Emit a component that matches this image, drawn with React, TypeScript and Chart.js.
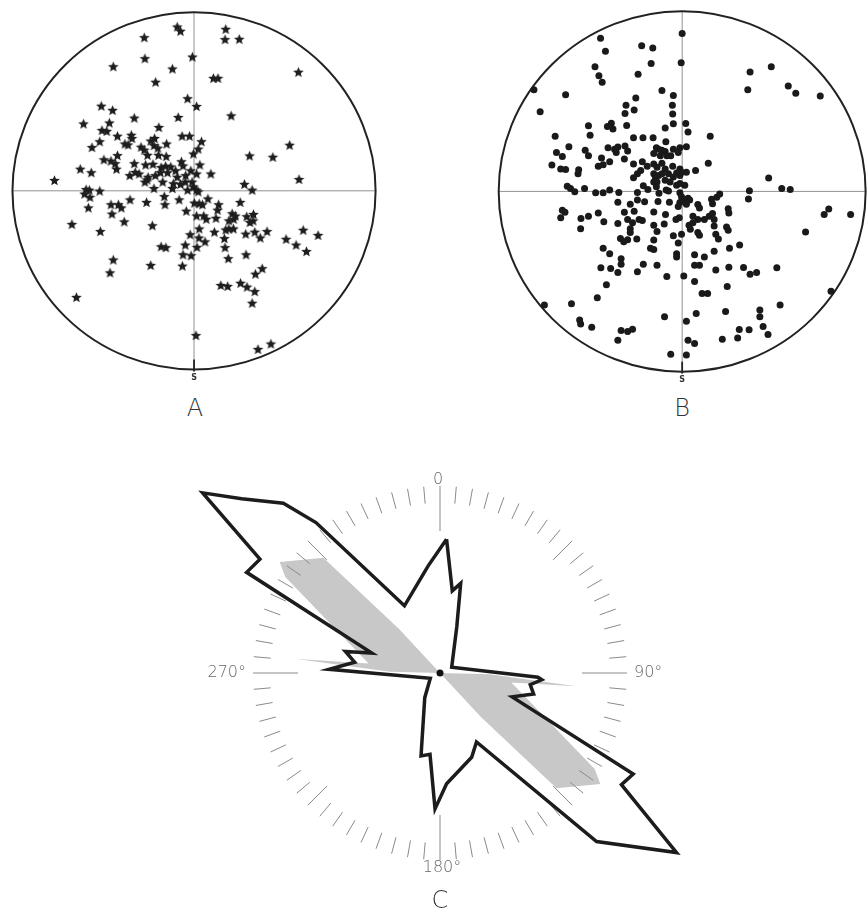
import React, { useEffect, useRef } from 'react';
import { Chart, registerables } from 'chart.js';
Chart.register(...registerables);

// ---------- Net A (stars): [east, north] in net units, origin at centre ----------
const NET_A_RADIUS_X = 562;
const NET_A_RADIUS_Y = 553;
const starPoles: [number, number][] = [
  [-52, 507], [-42, 494], [98, 500], [96, 468], [140, 469], [-154, 474], [-152, 409], [-5, 414],
  [-250, 384], [-67, 377], [323, 367], [-119, 336], [60, 348], [74, 348], [-20, 285], [8, 261],
  [-287, 262], [-252, 249], [-49, 227], [-185, 225], [115, 232], [-342, 207], [-262, 210], [-109, 196],
  [-285, 187], [-270, 184], [-237, 169], [-194, 172], [-192, 162], [-37, 169], [-14, 169], [-122, 162],
  [-292, 152], [-316, 134], [-214, 145], [-204, 142], [-134, 154], [-124, 140], [-85, 145], [23, 152],
  [-164, 135], [-154, 126], [-112, 132], [13, 129], [296, 141], [-144, 110], [-110, 110], [-86, 106],
  [-2, 114], [172, 108], [244, 104], [-237, 109], [-279, 96], [-257, 92], [-244, 84], [-240, 67],
  [-352, 67], [-318, 56], [-185, 84], [-150, 80], [-127, 82], [-102, 72], [-88, 76], [-72, 74],
  [-39, 90], [-34, 77], [18, 80], [-199, 47], [-182, 57], [-170, 52], [-152, 27], [-142, 42],
  [-120, 47], [-104, 56], [-82, 56], [-57, 62], [-52, 42], [-26, 47], [-10, 62], [8, 52],
  [52, 52], [-432, 32], [325, 35], [-145, 34], [-97, 27], [-64, 22], [-42, 20], [-27, 27],
  [-6, 27], [-2, 12], [8, 2], [156, 20], [180, 2], [-124, 7], [-67, 7], [-20, 2],
  [-334, 4], [-324, 2], [-339, -10], [-292, -1], [13, -3], [-322, -20], [-198, -28], [-147, -36],
  [-92, -18], [-90, -43], [-46, -28], [1, -38], [16, -40], [26, -43], [43, -25], [143, -36],
  [-257, -43], [-234, -43], [-225, -53], [-327, -53], [-254, -72], [-24, -63], [8, -78], [30, -78],
  [76, -43], [73, -60], [118, -71], [128, -78], [123, -88], [108, -93], [163, -80], [184, -73],
  [183, -93], [173, -98], [38, -88], [68, -85], [-378, -104], [-216, -96], [-129, -108], [-290, -126],
  [16, -118], [-12, -136], [15, -146], [63, -128], [98, -121], [108, -118], [122, -118], [160, -134],
  [188, -128], [205, -146], [226, -126], [285, -150], [338, -122], [384, -138], [316, -168], [348, -188],
  [94, -148], [34, -158], [-27, -168], [-102, -173], [-87, -176], [9, -175], [96, -176], [-34, -198],
  [-9, -201], [161, -198], [106, -210], [-250, -214], [-260, -254], [-134, -231], [-36, -233], [211, -241],
  [190, -258], [83, -293], [104, -296], [144, -286], [164, -298], [188, -312], [180, -348], [-364, -330],
  [6, -448], [198, -491], [238, -474],
];

// ---------- Net B (dots) ----------
const NET_B_RADIUS_X = 562;
const NET_B_RADIUS_Y = 552;
const dotPoles: [number, number][] = [
  [0, 484], [-250, 469], [-124, 446], [-90, 439], [-235, 429], [-95, 392], [-3, 394], [-267, 382],
  [-255, 354], [-245, 334], [-135, 359], [208, 366], [273, 382], [201, 311], [325, 323], [348, 301],
  [423, 292], [-454, 311], [-357, 296], [-62, 309], [-27, 294], [-435, 244], [-142, 286], [-30, 264],
  [-172, 264], [-147, 249], [-175, 239], [-29, 237], [-217, 209], [-229, 199], [-212, 191], [-287, 201],
  [-170, 202], [-52, 194], [-27, 207], [11, 208], [18, 182], [-282, 172], [-389, 169], [86, 169],
  [-149, 164], [-120, 164], [-89, 164], [-50, 152], [-347, 137], [-385, 119], [-367, 107], [-297, 126],
  [-287, 109], [-227, 134], [-207, 129], [-197, 136], [-175, 139], [-167, 124], [-202, 119], [-79, 134],
  [-72, 129], [-62, 126], [-52, 122], [-87, 116], [-67, 109], [-47, 109], [-27, 129], [-7, 134],
  [13, 137], [-35, 109], [-12, 119], [-247, 102], [-222, 91], [-177, 99], [-149, 84], [-122, 91],
  [-257, 77], [-242, 82], [-399, 81], [-372, 69], [-357, 67], [-317, 66], [-319, 54], [-87, 84],
  [-62, 86], [-107, 77], [-77, 74], [-52, 69], [-29, 77], [80, 86], [-7, 69], [-2, 59],
  [13, 59], [41, 64], [-137, 54], [-127, 64], [-87, 54], [-82, 44], [-72, 49], [-62, 54],
  [-42, 54], [-17, 56], [-149, 42], [-87, 29], [-77, 29], [-52, 34], [-37, 29], [-27, 44],
  [-7, 49], [-119, 17], [-79, 14], [-49, 4], [-17, 19], [-7, 24], [8, 19], [265, 41],
  [-352, 16], [-342, 9], [-329, -1], [-299, 9], [-265, -4], [-242, -4], [-222, 4], [-194, -3],
  [-137, -3], [-105, 6], [-71, -6], [-42, 1], [-7, -4], [-2, -16], [3, -26], [18, -21],
  [23, -26], [115, -8], [106, -18], [206, 2], [203, -23], [305, 9], [331, 6], [90, -24],
  [-197, -33], [-159, -39], [-137, -26], [-115, -32], [-74, -31], [-39, -33], [-7, -34], [13, -39],
  [-12, -46], [48, -40], [53, -51], [93, -38], [141, -53], [143, -66], [449, -54], [435, -71],
  [516, -71], [-367, -58], [-359, -64], [-372, -81], [-257, -66], [-177, -64], [-147, -61], [-87, -63],
  [-51, -71], [-9, -81], [33, -76], [48, -86], [68, -86], [83, -76], [93, -68], [98, -86],
  [-310, -83], [-287, -76], [-240, -93], [-167, -86], [-152, -96], [-132, -86], [-122, -89], [-87, -104],
  [-55, -100], [-19, -86], [21, -104], [33, -96], [98, -106], [136, -109], [141, -119], [-311, -114],
  [-197, -98], [-159, -114], [-77, -123], [25, -116], [48, -126], [53, -134], [378, -124], [-159, -126],
  [-27, -136], [-2, -131], [103, -131], [111, -146], [-189, -144], [-179, -154], [-167, -148], [-139, -146],
  [-12, -158], [-87, -149], [145, -174], [176, -164], [-242, -174], [-222, -191], [-97, -174], [-87, -178],
  [-17, -191], [-17, -201], [38, -194], [68, -201], [98, -183], [-187, -206], [-187, -223], [-249, -234],
  [-219, -236], [-197, -248], [-119, -223], [-77, -226], [-137, -246], [38, -226], [53, -226], [103, -241],
  [143, -232], [188, -233], [208, -254], [228, -248], [290, -234], [-232, -286], [-47, -261], [5, -259],
  [38, -276], [61, -313], [78, -313], [138, -291], [-260, -326], [-422, -348], [-339, -344], [300, -348],
  [456, -306], [-54, -384], [13, -398], [43, -374], [133, -368], [238, -363], [238, -384], [248, -414],
  [-314, -394], [-311, -406], [-277, -416], [-187, -426], [-167, -429], [-152, -422], [-197, -456], [175, -423],
  [205, -424], [263, -438], [18, -456], [38, -466], [123, -453], [170, -449], [-35, -499], [13, -501],
];

// ---------- Rose C: azimuth (deg, clockwise from 0) and length (ring = 187) ----------
const RING = 187;
const roseAzimuth = [2.8, 8.5, 13, 20, 64, 92.5, 93.8, 97.4, 102.7, 108.3, 117.6, 121.6, 127.2, 137.1, 152.1, 159.4,
  176.6, 182.1, 187, 192.9, 211.7, 241.8, 271.9, 277.2, 282.8, 286.3, 297.5, 302.3, 307.2, 311.3, 317.3, 320.5, 332.1, 353.8];
const roseLength = [134, 83, 92, 49, 13, 98, 102, 91, 96, 76, 218, 213, 297, 230, 78, 90,
  111, 136, 82, 85, 29, 11, 111, 86, 97, 71, 218, 213, 298, 264, 231, 195, 76, 108];
const coreAzimuth = [0, 91.5, 95.6, 97.5, 121.8, 124.7, 134.7, 137, 0, 271.5, 275.6, 277.5, 301.8, 304.7, 314.7, 317];
const coreLength = [0, 50, 137, 72, 182, 195, 164, 60, 0, 50, 144, 72, 182, 195, 164, 60];
const dialLabelAz = [0, 90, 180, 270];
const dialLabelText = ['0', '90°', '180°', '270°'];

const D2R = Math.PI / 180;
const toXY = (az: number[], len: number[]) => az.map((a, i) => ({ x: len[i] * Math.sin(a * D2R), y: len[i] * Math.cos(a * D2R) }));

function makeStar(): HTMLCanvasElement {
  const c = document.createElement('canvas');
  c.width = 13; c.height = 13;
  const g = c.getContext('2d')!;
  g.fillStyle = '#1e1e1e';
  g.beginPath();
  for (let i = 0; i < 10; i++) {
    const a = -Math.PI / 2 + (i * Math.PI) / 5;
    const rr = i % 2 === 0 ? 5.6 : 2.5;
    const px = 6.5 + rr * Math.cos(a), py = 6.8 + rr * Math.sin(a);
    if (i === 0) g.moveTo(px, py); else g.lineTo(px, py);
  }
  g.closePath();
  g.fill();
  return c;
}

function netPlugin(rx: number, ry: number) {
  return {
    id: 'net',
    beforeDatasetsDraw(chart: any) {
      const { ctx } = chart;
      const x = chart.scales.x, y = chart.scales.y;
      const cx = x.getPixelForValue(0), cy = y.getPixelForValue(0);
      const prx = x.getPixelForValue(rx) - cx, pry = cy - y.getPixelForValue(ry);
      ctx.save();
      ctx.strokeStyle = '#777';
      ctx.lineWidth = 0.8;
      ctx.beginPath();
      ctx.moveTo(cx - prx, cy); ctx.lineTo(cx + prx, cy);
      ctx.moveTo(cx, cy - pry); ctx.lineTo(cx, cy + pry);
      ctx.stroke();
      ctx.strokeStyle = '#222';
      ctx.lineWidth = 2;
      ctx.beginPath();
      ctx.ellipse(cx, cy, prx, pry, 0, 0, Math.PI * 2);
      ctx.stroke();
      ctx.lineWidth = 1.8;
      ctx.beginPath();
      ctx.moveTo(cx, cy + pry - 10); ctx.lineTo(cx, cy + pry + 2);
      ctx.stroke();
      ctx.fillStyle = '#333';
      ctx.font = 'bold 8px "DejaVu Sans"';
      ctx.textAlign = 'center';
      ctx.textBaseline = 'middle';
      ctx.fillText('S', cx, cy + pry + 8);
      ctx.restore();
    },
  };
}

const rosePlugin = {
  id: 'rose',
  beforeDatasetsDraw(chart: any) {
    const { ctx } = chart;
    const x = chart.scales.x, y = chart.scales.y;
    const P = (az: number, r: number) => [x.getPixelForValue(r * Math.sin(az * D2R)), y.getPixelForValue(r * Math.cos(az * D2R))];
    // shaded core
    const meta = chart.getDatasetMeta(1);
    ctx.save();
    ctx.fillStyle = '#c8c8c8';
    ctx.beginPath();
    meta.data.forEach((p: any, i: number) => (i ? ctx.lineTo(p.x, p.y) : ctx.moveTo(p.x, p.y)));
    ctx.closePath();
    ctx.fill();
    // dial ticks
    ctx.strokeStyle = '#8a8a8a';
    ctx.lineWidth = 1;
    ctx.beginPath();
    for (let az = 0; az < 360; az += 5) {
      const inner = az % 90 === 0 ? RING - 45 : az % 45 === 0 ? RING - 27 : RING - 17;
      const [x1, y1] = P(az, inner);
      const [x2, y2] = P(az, RING);
      ctx.moveTo(x1, y1); ctx.lineTo(x2, y2);
    }
    ctx.stroke();
    ctx.fillStyle = '#666';
    ctx.font = '200 16px "DejaVu Sans"';
    ctx.textBaseline = 'middle';
    dialLabelAz.forEach((az, i) => {
      const [px, py] = P(az, RING);
      if (az === 0) { ctx.textAlign = 'center'; ctx.fillText(dialLabelText[i], px - 2, py - 6); }
      else if (az === 180) { ctx.textAlign = 'center'; ctx.fillText(dialLabelText[i], px + 2, py + 8); }
      else if (az === 90) { ctx.textAlign = 'left'; ctx.fillText(dialLabelText[i], px + 7, py); }
      else { ctx.textAlign = 'right'; ctx.fillText(dialLabelText[i], px - 7, py); }
    });
    ctx.restore();
  },
  afterDatasetsDraw(chart: any) {
    const { ctx } = chart;
    const cx = chart.scales.x.getPixelForValue(0), cy = chart.scales.y.getPixelForValue(0);
    ctx.save();
    ctx.fillStyle = '#111';
    ctx.beginPath();
    ctx.arc(cx, cy, 3.5, 0, Math.PI * 2);
    ctx.fill();
    ctx.restore();
  },
};

const hiddenScale = (min: number, max: number) => ({ type: 'linear', min, max, display: false });

function ChartCanvas({ config, left, top, width, height }: any) {
  const ref = useRef<HTMLCanvasElement>(null);
  useEffect(() => {
    const chart = new Chart(ref.current!, config());
    return () => chart.destroy();
  }, []);
  return <canvas ref={ref} width={width} height={height} style={{ position: 'absolute', left, top, width, height }} />;
}

const baseOptions = (xr: [number, number], yr: [number, number]) => ({
  responsive: false,
  animation: false,
  events: [],
  layout: { padding: 0 },
  plugins: { legend: { display: false }, tooltip: { enabled: false }, title: { display: false } },
  scales: { x: hiddenScale(xr[0], xr[1]), y: hiddenScale(yr[0], yr[1]) },
});

const configA = () => ({
  type: 'scatter',
  data: {
    datasets: [{
      data: starPoles.map(([x, y]) => ({ x, y })),
      pointStyle: makeStar(),
      pointRadius: 5,
      clip: false,
    }],
  },
  options: baseOptions([-582, 588], [-598, 572]),
  plugins: [netPlugin(NET_A_RADIUS_X, NET_A_RADIUS_Y)],
});

const configB = () => ({
  type: 'scatter',
  data: {
    datasets: [{
      data: dotPoles.map(([x, y]) => ({ x, y })),
      pointStyle: 'circle',
      pointRadius: 3.5,
      backgroundColor: '#1a1a1a',
      borderColor: '#1a1a1a',
      borderWidth: 0,
      clip: false,
    }],
  },
  options: baseOptions([-607, 557], [-596, 574]),
  plugins: [netPlugin(NET_B_RADIUS_X, NET_B_RADIUS_Y)],
});

const configC = () => {
  const outline = toXY(roseAzimuth, roseLength);
  outline.push(outline[0]);
  return {
    type: 'scatter',
    data: {
      datasets: [
        {
          data: outline,
          showLine: true,
          borderColor: '#1c1c1c',
          borderWidth: 3.5,
          borderJoinStyle: 'miter',
          tension: 0,
          pointRadius: 0,
          fill: false,
          clip: false,
        },
        {
          data: toXY(coreAzimuth, coreLength),
          showLine: false,
          pointRadius: 0,
          clip: false,
        },
      ],
    },
    options: baseOptions([-300, 300], [-227, 213]),
    plugins: [rosePlugin],
  };
};

const letterStyle = (left: number, top: number): React.CSSProperties => ({
  position: 'absolute', left, top, transform: 'translate(-50%, -50%)',
  fontFamily: '"DejaVu Sans", sans-serif', fontWeight: 200, fontSize: 24, color: '#333', lineHeight: 1,
});

export default function App() {
  return (
    <div style={{ position: 'fixed', left: 0, top: 0, width: 868, height: 914, background: '#fff', overflow: 'hidden' }}>
      <ChartCanvas config={configA} left={0} top={0} width={390} height={390} />
      <ChartCanvas config={configB} left={480} top={0} width={388} height={390} />
      <ChartCanvas config={configC} left={140} top={460} width={600} height={440} />
      <div style={letterStyle(195, 408)}>A</div>
      <div style={letterStyle(682, 408)}>B</div>
      <div style={letterStyle(440, 900)}>C</div>
    </div>
  );
}
